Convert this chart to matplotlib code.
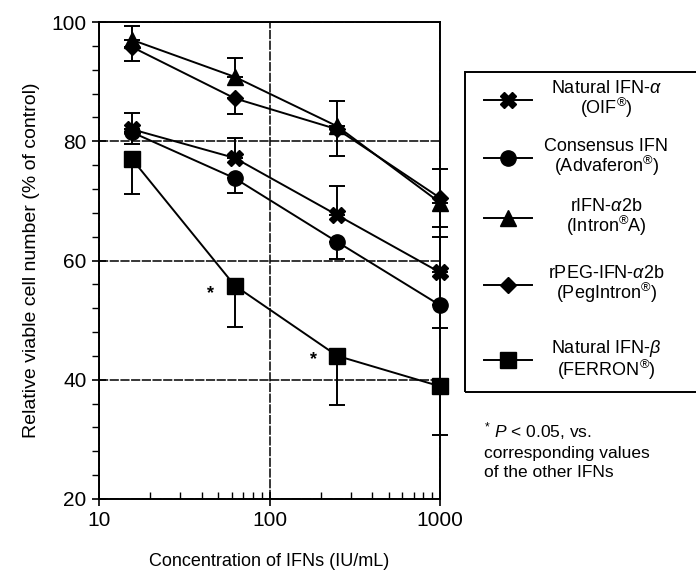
import matplotlib.pyplot as plt
from matplotlib.lines import Line2D
from matplotlib.patches import Rectangle
from matplotlib.ticker import FixedLocator, NullFormatter

plt.rcParams['font.family'] = ['Liberation Sans', 'DejaVu Sans']
plt.rcParams['mathtext.fontset'] = 'custom'
plt.rcParams['mathtext.it'] = 'Liberation Sans:italic'
plt.rcParams['mathtext.rm'] = 'Liberation Sans'

# concentrations (IU/mL)
conc = [15.625, 62.5, 250, 1000]

# mean viability (% of control) and one-sided error bars
nat_a = [82.0, 77.2, 67.6, 58.0]
nat_a_up = [2.7, 3.3, 4.9, 6.0]
cons = [81.5, 73.8, 63.1, 52.5]
cons_lo = [2.0, 2.5, 2.8, 3.8]
rifn = [97.0, 90.8, 82.5, 69.7]
rifn_up = [2.4, 3.2, 4.3, 5.6]
peg = [95.8, 87.2, 82.0, 70.5]
peg_lo = [2.4, 2.6, 4.5, 4.8]
nat_b = [77.0, 55.8, 44.0, 38.9]
nat_b_lo = [5.8, 7.0, 8.3, 8.2]

labels = ['Natural IFN-$\\mathit{\\alpha}$\n(OIF$^{\\circledR}$)',
          'Consensus IFN\n(Advaferon$^{\\circledR}$)',
          'rIFN-$\\mathit{\\alpha}$2b\n(Intron$^{\\circledR}$A)',
          'rPEG-IFN-$\\mathit{\\alpha}$2b\n(PegIntron$^{\\circledR}$)',
          'Natural IFN-$\\mathit{\\beta}$\n(FERRON$^{\\circledR}$)']

# significance stars (x, y)
star_x = [45, 180]
star_y = [54.4, 43.3]

W, H = 696, 572
fig = plt.figure(figsize=(W / 100, H / 100), dpi=100)
ax = fig.add_axes([99 / W, 1 - 499 / H, (440 - 99) / W, (499 - 22) / H])

series = [
    (nat_a, [0] * 4, nat_a_up, 'X', 11),
    (cons, cons_lo, [0] * 4, 'o', 11),
    (rifn, [0] * 4, rifn_up, '^', 11),
    (peg, peg_lo, [0] * 4, 'D', 8),
    (nat_b, nat_b_lo, [0] * 4, 's', 11),
]
for y, lo, up, m, ms in series:
    eb = ax.errorbar(conc, y, yerr=[lo, up], color='black', marker=m, ms=ms,
                     lw=1.4, elinewidth=1.4, capsize=6, capthick=1.4, zorder=3)
    for art in eb.get_children():
        art.set_clip_on(False)

for sx, sy in zip(star_x, star_y):
    ax.text(sx, sy, '*', ha='center', va='center', fontsize=13, fontweight='bold')

ax.set_xscale('log')
ax.set_xlim(10, 1000)
ax.set_ylim(20, 100)
ax.set_xticks([10, 100, 1000])
ax.set_xticklabels(['10', '100', '1000'])
ax.xaxis.set_minor_locator(FixedLocator([k * d for d in [10, 100] for k in range(2, 10)]))
ax.xaxis.set_minor_formatter(NullFormatter())
ax.set_yticks([20, 40, 60, 80, 100])
ax.yaxis.set_minor_locator(FixedLocator([v for v in range(20, 101, 4) if v % 20]))
ax.tick_params(axis='both', which='major', direction='inout', length=10, width=1.2,
               labelsize=15, pad=4)
ax.tick_params(axis='x', which='minor', direction='in', length=5, width=1)
ax.tick_params(axis='y', which='minor', direction='out', length=5, width=1)
ax.grid(True, which='major', color='black', lw=1.1, ls=(0, (6, 1)))
for s in ax.spines.values():
    s.set_linewidth(1.4)

ax.set_xlabel('Concentration of IFNs (IU/mL)', fontsize=13, labelpad=16)
ax.set_ylabel('Relative viable cell number (% of control)', fontsize=14, labelpad=8)

# legend box drawn by hand in figure pixels
def fx(px):
    return px / W

def fy(py):
    return 1 - py / H

fig.patches.append(Rectangle((fx(465), fy(392)), fx(250), (392 - 72) / H,
                             transform=fig.transFigure, fill=False,
                             edgecolor='black', lw=1.4))
markers = ['X', 'o', '^', 'D', 's']
sizes = [11, 11, 11, 8, 11]
ys = [100, 158, 218, 285, 360]
for lab, m, ms, py in zip(labels, markers, sizes, ys):
    fig.add_artist(Line2D([fx(484), fx(532)], [fy(py), fy(py)], color='black',
                          lw=1.4, transform=fig.transFigure))
    fig.add_artist(Line2D([fx(508)], [fy(py)], color='black', marker=m, ms=ms,
                          transform=fig.transFigure))
    fig.text(fx(606), fy(py), lab, ha='center', va='center', fontsize=13,
             multialignment='center', linespacing=0.95)

fig.text(fx(484), fy(420), '$^{*}$ $\\mathit{P}$ < 0.05, vs.\ncorresponding values\nof the other IFNs',
         ha='left', va='top', fontsize=12.5, linespacing=1.35)

fig.savefig('out.png', dpi=100)
